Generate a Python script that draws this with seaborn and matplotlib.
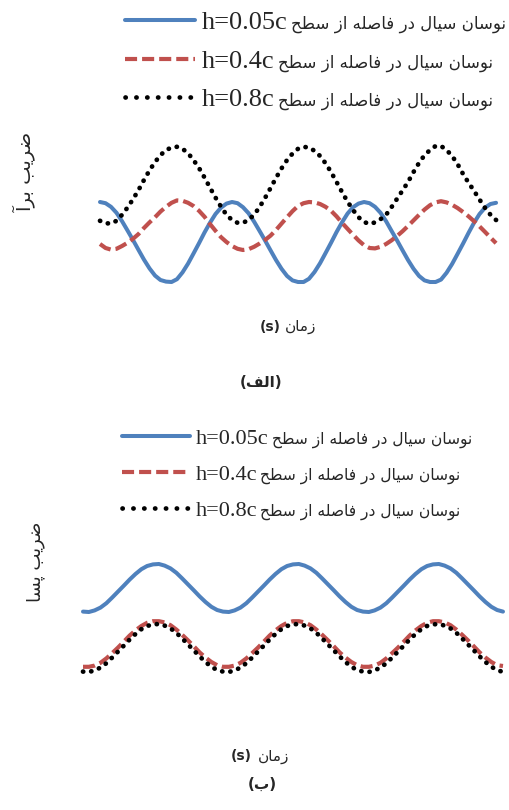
import matplotlib
matplotlib.use("Agg")
import matplotlib.pyplot as plt
from matplotlib.lines import Line2D
import pandas as pd
import seaborn as sns

# ---------------- data ----------------
time_s = [0.0, 0.042, 0.083, 0.125, 0.167, 0.208, 0.25, 0.292, 0.333, 0.375, 0.417, 0.458,
          0.5, 0.542, 0.583, 0.625, 0.667, 0.708, 0.75, 0.792, 0.833, 0.875, 0.917, 0.958,
          1.0, 1.042, 1.083, 1.125, 1.167, 1.208, 1.25, 1.292, 1.333, 1.375, 1.417, 1.458,
          1.5, 1.542, 1.583, 1.625, 1.667, 1.708, 1.75, 1.792, 1.833, 1.875, 1.917, 1.958,
          2.0, 2.042, 2.083, 2.125, 2.167, 2.208, 2.25, 2.292, 2.333, 2.375, 2.417, 2.458,
          2.5, 2.542, 2.583, 2.625, 2.667, 2.708, 2.75, 2.792, 2.833, 2.875, 2.917, 2.958, 3.0]

lift_h005 = [1.00, 0.97, 0.88, 0.73, 0.52, 0.29, 0.05, -0.20, -0.44, -0.66, -0.84, -0.95,
             -0.99, -1.00, -0.93, -0.76, -0.54, -0.29, -0.03, 0.24, 0.48, 0.70, 0.86, 0.96,
             1.00, 0.97, 0.87, 0.72, 0.51, 0.28, 0.04, -0.21, -0.45, -0.67, -0.85, -0.96,
             -1.00, -1.00, -0.92, -0.75, -0.53, -0.28, -0.02, 0.25, 0.49, 0.71, 0.87, 0.96,
             1.00, 0.97, 0.88, 0.73, 0.52, 0.28, 0.04, -0.21, -0.45, -0.67, -0.85, -0.96,
             -1.00, -1.00, -0.94, -0.77, -0.55, -0.30, -0.04, 0.23, 0.48, 0.70, 0.86, 0.95, 0.98]
lift_h04 = [-0.05, -0.15, -0.19, -0.17, -0.10, -0.02, 0.08, 0.20, 0.35, 0.49, 0.62, 0.76,
            0.88, 0.98, 1.04, 1.03, 0.98, 0.90, 0.78, 0.63, 0.45, 0.28, 0.12, 0.00,
            -0.10, -0.17, -0.20, -0.18, -0.12, -0.04, 0.05, 0.16, 0.30, 0.46, 0.62, 0.77,
            0.90, 0.97, 1.00, 0.99, 0.95, 0.88, 0.78, 0.64, 0.48, 0.33, 0.18, 0.04,
            -0.08, -0.15, -0.16, -0.12, -0.05, 0.04, 0.15, 0.27, 0.40, 0.54, 0.68, 0.81,
            0.92, 0.99, 1.02, 0.99, 0.93, 0.85, 0.75, 0.64, 0.52, 0.39, 0.25, 0.11, -0.03]
lift_h08 = [0.53, 0.47, 0.46, 0.53, 0.68, 0.86, 1.07, 1.30, 1.55, 1.79, 2.00, 2.17,
            2.30, 2.36, 2.38, 2.33, 2.22, 2.05, 1.85, 1.61, 1.36, 1.11, 0.88, 0.68,
            0.55, 0.48, 0.48, 0.55, 0.68, 0.87, 1.10, 1.35, 1.60, 1.84, 2.05, 2.21,
            2.33, 2.38, 2.36, 2.28, 2.15, 1.97, 1.75, 1.50, 1.25, 1.01, 0.80, 0.62,
            0.50, 0.45, 0.49, 0.57, 0.68, 0.87, 1.08, 1.29, 1.50, 1.75, 1.98, 2.17,
            2.30, 2.40, 2.40, 2.30, 2.15, 1.95, 1.70, 1.48, 1.28, 1.06, 0.85, 0.68, 0.55]

drag_h005 = [1.96, 1.95, 1.99, 2.06, 2.17, 2.31, 2.46, 2.61, 2.76, 2.90, 3.02, 3.10,
             3.14, 3.15, 3.11, 3.04, 2.93, 2.79, 2.64, 2.49, 2.34, 2.20, 2.08, 2.00,
             1.96, 1.95, 1.99, 2.06, 2.17, 2.31, 2.46, 2.61, 2.76, 2.90, 3.02, 3.10,
             3.14, 3.15, 3.11, 3.04, 2.93, 2.79, 2.64, 2.49, 2.34, 2.20, 2.08, 2.00,
             1.96, 1.95, 1.99, 2.06, 2.17, 2.31, 2.46, 2.61, 2.76, 2.90, 3.02, 3.10,
             3.14, 3.15, 3.11, 3.04, 2.93, 2.79, 2.64, 2.49, 2.34, 2.20, 2.08, 2.00, 1.96]
drag_h04 = [0.58, 0.58, 0.61, 0.68, 0.79, 0.92, 1.06, 1.21, 1.36, 1.49, 1.60, 1.68,
            1.72, 1.72, 1.69, 1.62, 1.51, 1.38, 1.24, 1.09, 0.94, 0.81, 0.70, 0.62,
            0.58, 0.58, 0.61, 0.68, 0.79, 0.92, 1.06, 1.21, 1.36, 1.49, 1.60, 1.68,
            1.72, 1.72, 1.69, 1.62, 1.51, 1.38, 1.24, 1.09, 0.94, 0.81, 0.70, 0.62,
            0.58, 0.58, 0.61, 0.68, 0.79, 0.92, 1.06, 1.21, 1.36, 1.49, 1.60, 1.68,
            1.72, 1.72, 1.69, 1.62, 1.51, 1.38, 1.24, 1.09, 0.94, 0.81, 0.70, 0.62, 0.60]
drag_h08 = [0.46, 0.45, 0.49, 0.56, 0.67, 0.81, 0.96, 1.11, 1.26, 1.40, 1.52, 1.60,
            1.64, 1.65, 1.61, 1.54, 1.43, 1.29, 1.14, 0.99, 0.84, 0.70, 0.58, 0.50,
            0.46, 0.45, 0.49, 0.56, 0.67, 0.81, 0.96, 1.11, 1.26, 1.40, 1.52, 1.60,
            1.64, 1.65, 1.61, 1.54, 1.43, 1.29, 1.14, 0.99, 0.84, 0.70, 0.58, 0.50,
            0.46, 0.45, 0.49, 0.56, 0.67, 0.81, 0.96, 1.11, 1.26, 1.40, 1.52, 1.60,
            1.64, 1.65, 1.61, 1.54, 1.43, 1.29, 1.14, 0.99, 0.84, 0.70, 0.58, 0.50, 0.45]

heights = ["h=0.05c", "h=0.4c", "h=0.8c"]
legend_prefix = "نوسان سیال در فاصله از سطح"
ylabel_top = "ضریب برآ"
ylabel_bottom = "ضریب پسا"
xlabel_word = "زمان"
xlabel_unit = "(s)"
panel_top = "الف"
panel_bottom = "ب"

colors = ["#4F81BD", "#C0504D", "#000000"]

# ---------------- minimal Arabic/Persian shaping ----------------
FORMS = {
    "ا": ("\uFE8D", "\uFE8E", None, None),
    "آ": ("\uFE81", "\uFE82", None, None),
    "ب": ("\uFE8F", "\uFE90", "\uFE91", "\uFE92"),
    "پ": ("\uFB56", "\uFB57", "\uFB58", "\uFB59"),
    "ح": ("\uFEA1", "\uFEA2", "\uFEA3", "\uFEA4"),
    "د": ("\uFEA9", "\uFEAA", None, None),
    "ر": ("\uFEAD", "\uFEAE", None, None),
    "ز": ("\uFEAF", "\uFEB0", None, None),
    "س": ("\uFEB1", "\uFEB2", "\uFEB3", "\uFEB4"),
    "ص": ("\uFEB9", "\uFEBA", "\uFEBB", "\uFEBC"),
    "ض": ("\uFEBD", "\uFEBE", "\uFEBF", "\uFEC0"),
    "ط": ("\uFEC1", "\uFEC2", "\uFEC3", "\uFEC4"),
    "ف": ("\uFED1", "\uFED2", "\uFED3", "\uFED4"),
    "ل": ("\uFEDD", "\uFEDE", "\uFEDF", "\uFEE0"),
    "م": ("\uFEE1", "\uFEE2", "\uFEE3", "\uFEE4"),
    "ن": ("\uFEE5", "\uFEE6", "\uFEE7", "\uFEE8"),
    "ه": ("\uFEE9", "\uFEEA", "\uFEEB", "\uFEEC"),
    "و": ("\uFEED", "\uFEEE", None, None),
    "\u06CC": ("\uFBFC", "\uFBFD", "\uFBFE", "\uFBFF"),
    "\u064A": ("\uFBFC", "\uFBFD", "\uFBFE", "\uFBFF"),
}


def shape(text):
    chars = list(text)
    out = []
    for i, c in enumerate(chars):
        if c not in FORMS:
            out.append(c)
            continue
        iso, fin, ini, med = FORMS[c]
        prev = chars[i - 1] if i > 0 else None
        nxt = chars[i + 1] if i + 1 < len(chars) else None
        jp = prev in FORMS and FORMS[prev][2] is not None
        jn = nxt in FORMS and ini is not None
        if jp and jn:
            out.append(med)
        elif jp:
            out.append(fin)
        elif jn:
            out.append(ini)
        else:
            out.append(iso)
    return "".join(reversed(out))


# ---------------- figure ----------------
sns.set_theme(style="white")
plt.rcParams["font.family"] = ["DejaVu Sans"]

W, H = 509, 810
fig = plt.figure(figsize=(W / 100, H / 100), dpi=100)
fig.patch.set_facecolor("white")


def px_rect(x0, y0, x1, y1):
    return [x0 / W, 1 - y1 / H, (x1 - x0) / W, (y1 - y0) / H]


def draw_panel(ax, series, ylim, xlim):
    for vals, col, kind in zip(series, colors, ["solid", "dash", "dot"]):
        df = pd.DataFrame({"t": time_s, "v": vals})
        sns.lineplot(data=df, x="t", y="v", ax=ax, color=col, linewidth=3.0,
                     estimator=None, sort=False, legend=False, clip_on=False)
        ln = ax.lines[-1]
        ln.set_solid_joinstyle("round")
        if kind == "solid":
            ln.set_solid_capstyle("round")
            ln.set_linewidth(2.9)
        elif kind == "dash":
            ln.set_linewidth(3.0)
            ln.set_dashes((2.9, 1.2))
            ln.set_dash_capstyle("butt")
        else:
            ln.set_linewidth(3.4)
            ln.set_dashes((0.05, 1.7))
            ln.set_dash_capstyle("round")
    ax.set_xlim(*xlim)
    ax.set_ylim(*ylim)
    ax.set_axis_off()


def legend_handles():
    return [Line2D([], [], color=colors[0], lw=2.9, solid_capstyle="round"),
            Line2D([], [], color=colors[1], lw=3.0, dashes=(2.9, 1.2), dash_capstyle="butt"),
            Line2D([], [], color=colors[2], lw=3.4, dashes=(0.05, 2.25),
                   dash_capstyle="round")]


latin_font = "Liberation Serif"


def add_legend(ax, anchor_px, fs, handle_px, gap_px, spacing, persian_fs):
    fpx = fs * 100 / 72
    leg = ax.legend(legend_handles(), heights, loc="upper left",
                    bbox_to_anchor=(anchor_px[0] / W, 1 - anchor_px[1] / H),
                    bbox_transform=fig.transFigure,
                    frameon=False, borderpad=0, borderaxespad=0,
                    handlelength=handle_px / fpx, handletextpad=gap_px / fpx,
                    labelspacing=spacing,
                    prop={"family": latin_font, "size": fs})
    fig.canvas.draw()
    r = fig.canvas.get_renderer()
    for t in leg.get_texts():
        bb = t.get_window_extent(r)
        fig.text((bb.x1 + 3) / W, (bb.y0 + bb.y1) / 2 / H - 1.0 / H, shape(legend_prefix),
                 ha="left", va="center", fontsize=persian_fs)
    return leg


def add_xlabel(x_unit, x_word, y):
    fig.text(x_unit / W, 1 - y / H, xlabel_unit, ha="center", va="center",
             fontsize=10, fontweight="bold")
    fig.text(x_word / W, 1 - y / H, shape(xlabel_word), ha="center", va="center",
             fontsize=11)


# top panel (lift)
ax1 = fig.add_axes(px_rect(100, 130, 495, 300))
draw_panel(ax1, [lift_h005, lift_h04, lift_h08], (-1.45, 2.8), (0, 2.992))
add_legend(ax1, (125, 11), 19, 70, 7, 0.57, 12.0)

# bottom panel (drag)
ax2 = fig.add_axes(px_rect(83, 550, 502, 690))
draw_panel(ax2, [drag_h005, drag_h04, drag_h08], (0, 3.5), (0, 2.993))
add_legend(ax2, (122, 428), 16, 68, 6, 0.7, 11.2)

# axis titles and panel captions
fig.text(24 / W, 1 - 172 / H, shape(ylabel_top), rotation=90, ha="center", va="center",
         fontsize=14)
fig.text(36 / W, 1 - 562 / H, shape(ylabel_bottom), rotation=90, ha="center", va="center",
         fontsize=13)
add_xlabel(270, 301, 327)
add_xlabel(241, 274, 756)
fig.text(261 / W, 1 - 382 / H, "(" + shape(panel_top) + ")", ha="center", va="center",
         fontsize=11, fontweight="bold")
fig.text(262 / W, 1 - 784 / H, "(" + shape(panel_bottom) + ")", ha="center", va="center",
         fontsize=11, fontweight="bold")

fig.savefig("out.png", dpi=100, facecolor="white")
